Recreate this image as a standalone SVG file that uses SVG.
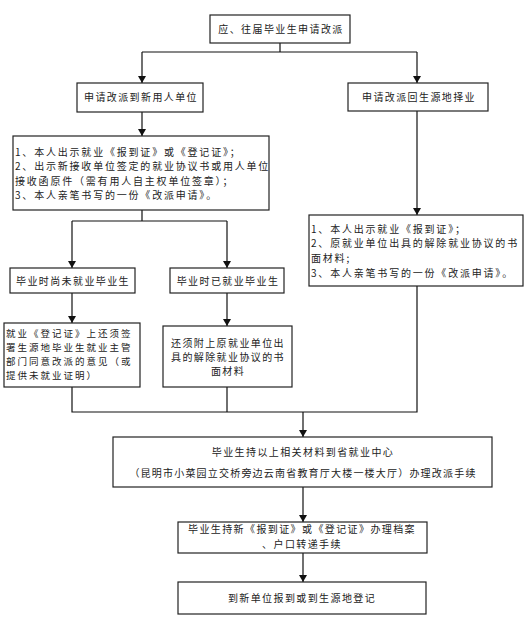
<svg xmlns="http://www.w3.org/2000/svg" width="529" height="618" viewBox="0 0 529 618">
<style>
.box{fill:#fff;stroke:#222;stroke-width:1.2}
.t{font-family:"Noto Sans CJK SC","Noto Sans",sans-serif;font-size:10px;letter-spacing:1.4px;fill:#222}
.c{text-anchor:middle}
.w{letter-spacing:1.8px}
.s{font-size:9.5px;letter-spacing:2px}
.ln{fill:none;stroke:#111;stroke-width:1.2}
</style>
<defs>
<marker id="a" markerUnits="userSpaceOnUse" markerWidth="8" markerHeight="8" refX="7" refY="4" orient="auto" viewBox="0 0 8 8">
<path d="M0,0 L7,4 L0,8 Z" fill="#111"/>
</marker>
</defs>
<g id="connectors">
<path class="ln" d="M280,43 V52 M142,52 H417"/>
<path class="ln" d="M142,52 V83" marker-end="url(#a)"/>
<path class="ln" d="M417,52 V83" marker-end="url(#a)"/>
<path class="ln" d="M142,112 V136" marker-end="url(#a)"/>
<path class="ln" d="M417,111 V215" marker-end="url(#a)"/>
<path class="ln" d="M142,210 V221 M72,221 H227"/>
<path class="ln" d="M72,221 V268" marker-end="url(#a)"/>
<path class="ln" d="M227,221 V268" marker-end="url(#a)"/>
<path class="ln" d="M72,293 V323" marker-end="url(#a)"/>
<path class="ln" d="M227,293 V326" marker-end="url(#a)"/>
<path class="ln" d="M72,387 V412 H417 V286 M227,387 V412"/>
<path class="ln" d="M303,412 V437" marker-end="url(#a)"/>
<path class="ln" d="M303,487 V522" marker-end="url(#a)"/>
<path class="ln" d="M303,553 V582" marker-end="url(#a)"/>
</g>
<g id="n1">
<rect class="box" x="210" y="15" width="140" height="28"/>
<text class="t c" x="281" y="33">应、往届毕业生申请改派</text>
</g>
<g id="n2">
<rect class="box" x="77" y="83" width="126" height="29"/>
<text class="t c" x="141" y="101">申请改派到新用人单位</text>
</g>
<g id="n3">
<rect class="box" x="348" y="83" width="140" height="28"/>
<text class="t c" x="419" y="101">申请改派回生源地择业</text>
</g>
<g id="n4">
<rect class="box" x="13" y="136" width="256" height="74"/>
<text class="t w" x="15" y="156">1、本人出示就业《报到证》或《登记证》；</text>
<text class="t w" x="15" y="170">2、出示新接收单位签定的就业协议书或用人单位</text>
<text class="t w" x="15" y="185">接收函原件（需有用人自主权单位签章）；</text>
<text class="t w" x="15" y="199">3、本人亲笔书写的一份《改派申请》。</text>
</g>
<g id="n5">
<rect class="box" x="309" y="215" width="214" height="71"/>
<text class="t w" x="311" y="233">1、本人出示就业《报到证》；</text>
<text class="t w" x="311" y="247">2、原就业单位出具的解除就业协议的书</text>
<text class="t w" x="311" y="262">面材料;</text>
<text class="t w" x="311" y="277">3、本人亲笔书写的一份《改派申请》。</text>
</g>
<g id="n6">
<rect class="box" x="10" y="268" width="125" height="25"/>
<text class="t c" x="73" y="285">毕业时尚未就业毕业生</text>
</g>
<g id="n7">
<rect class="box" x="170" y="268" width="114" height="25"/>
<text class="t c" x="228" y="285">毕业时已就业毕业生</text>
</g>
<g id="n8">
<rect class="box" x="4" y="323" width="136" height="64"/>
<text class="t s" x="6" y="337">就业《登记证》上还须签</text>
<text class="t s" x="6" y="351">署生源地毕业生就业主管</text>
<text class="t s" x="6" y="365">部门同意改派的意见（或</text>
<text class="t s" x="6" y="379">提供未就业证明）</text>
</g>
<g id="n9">
<rect class="box" x="163" y="326" width="129" height="61"/>
<text class="t c" x="228" y="347">还须附上原就业单位出</text>
<text class="t c" x="228" y="361">具的解除就业协议的书</text>
<text class="t c" x="228" y="375">面材料</text>
</g>
<g id="n10">
<rect class="box" x="113" y="437" width="379" height="50"/>
<text class="t c" x="303" y="456">毕业生持以上相关材料到省就业中心</text>
<text class="t c" x="303" y="477" style="letter-spacing:1.2px">（昆明市小菜园立交桥旁边云南省教育厅大楼一楼大厅）办理改派手续</text>
</g>
<g id="n11">
<rect class="box" x="178" y="522" width="249" height="31"/>
<text class="t c" x="302" y="533">毕业生持新《报到证》或《登记证》办理档案</text>
<text class="t c" x="302" y="548">、户口转递手续</text>
</g>
<g id="n12">
<rect class="box" x="178" y="582" width="248" height="32"/>
<text class="t c" x="302" y="602">到新单位报到或到生源地登记</text>
</g>
</svg>
